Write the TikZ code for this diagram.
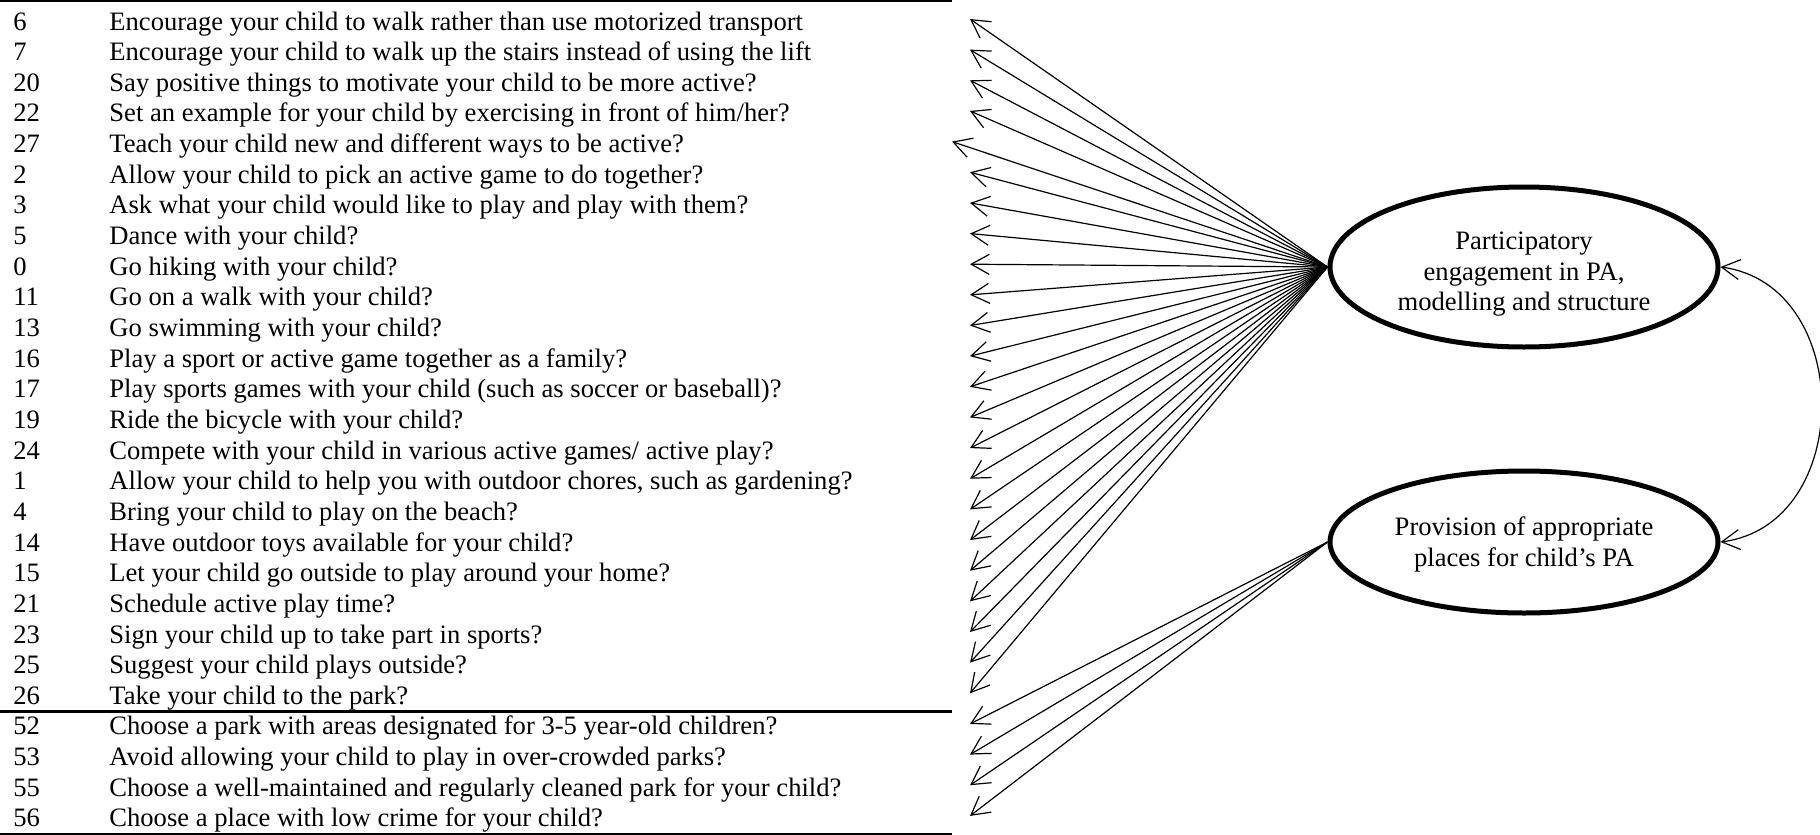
\documentclass[tikz,border=0pt]{standalone}
\usepackage{fontspec}
\setmainfont{Liberation Serif}
\usetikzlibrary{arrows.meta}
\usetikzlibrary{shapes.geometric}

\begin{document}
\begin{tikzpicture}[x=0.5pt,y=-0.5pt,>={Straight Barb[length=9pt,width=10pt]},
  item/.style={anchor=base west,inner sep=0pt,font=\fontsize{13.3}{15}\selectfont},
  factor/.style={draw,ellipse,line width=2.5pt,inner sep=0pt,align=center,font=\fontsize{13.3}{15.4}\selectfont},
  load/.style={->,line width=0.6pt}]

\useasboundingbox (0,0) rectangle (1820,835);

% rules of the table
\draw[line width=1pt] (0,1) -- (952,1);
\draw[line width=1.5pt] (0,711) -- (952,711);
\draw[line width=1pt] (0,834) -- (952,834);

% factors
\node[factor,minimum width=194pt,minimum height=80pt] (pe) at (1524,267) {\rule{0pt}{16pt}Participatory\\engagement in PA,\\modelling and structure};
\node[factor,minimum width=194pt,minimum height=71pt] (pp) at (1524,542) {\rule{0pt}{12pt}Provision of appropriate\\places for child’s PA};

% items
\foreach \num/\txt [count=\i from 0] in {
  6/{Encourage your child to walk rather than use motorized transport},
  7/{Encourage your child to walk up the stairs instead of using the lift},
  20/{Say positive things to motivate your child to be more active?},
  22/{Set an example for your child by exercising in front of him/her?},
  27/{Teach your child new and different ways to be active?},
  2/{Allow your child to pick an active game to do together?},
  3/{Ask what your child would like to play and play with them?},
  5/{Dance with your child?},
  0/{Go hiking with your child?},
  11/{Go on a walk with your child?},
  13/{Go swimming with your child?},
  16/{Play a sport or active game together as a family?},
  17/{Play sports games with your child (such as soccer or baseball)?},
  19/{Ride the bicycle with your child?},
  24/{Compete with your child in various active games/ active play?},
  1/{Allow your child to help you with outdoor chores, such as gardening?},
  4/{Bring your child to play on the beach?},
  14/{Have outdoor toys available for your child?},
  15/{Let your child go outside to play around your home?},
  21/{Schedule active play time?},
  23/{Sign your child up to take part in sports?},
  25/{Suggest your child plays outside?},
  26/{Take your child to the park?},
  52/{Choose a park with areas designated for 3-5 year-old children?},
  53/{Avoid allowing your child to play in over-crowded parks?},
  55/{Choose a well-maintained and regularly cleaned park for your child?},
  56/{Choose a place with low crime for your child?}}{
  \node[item] (n\i) at (13,30+30.65*\i) {\num};
  \node[item] (q\i) at (109,30+30.65*\i) {\txt};
  \pgfmathsetmacro\tx{\i==4 ? 952 : 970}
  \coordinate (t\i) at (\tx,19+30.65*\i);
}

% loadings
\foreach \i in {0,...,22} \draw[load] (pe.west) -- (t\i);
\foreach \i in {23,...,26} \draw[load] (pp.west) -- (t\i);

% correlation
\draw[load,<->] (pe.east) .. controls (1855,285) and (1855,525) .. (pp.east);
\end{tikzpicture}
\end{document}
